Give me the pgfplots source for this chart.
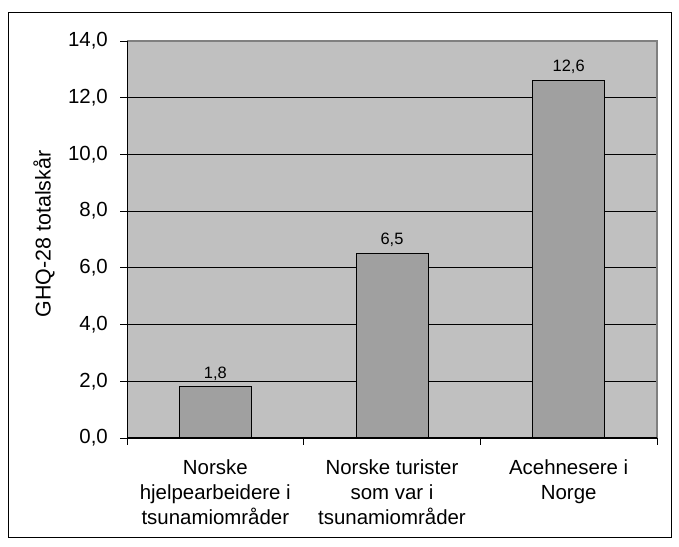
\documentclass[border=0pt]{standalone}
\usepackage{pgfplots}
\pgfplotsset{compat=1.18}
\usepackage{fontspec}
\setmainfont{Liberation Sans}
\definecolor{plotbg}{HTML}{C0C0C0}
\definecolor{barfill}{HTML}{A0A0A0}
\definecolor{frameg}{HTML}{808080}
\begin{document}
\begin{tikzpicture}[x=1bp,y=1bp]
\useasboundingbox (0,0) rectangle (679,547);
\draw[black, line width=1bp] (8.5,9) rectangle (671,534.5);
\node[rotate=90, font=\fontsize{21.5}{24}\selectfont] at (44,313) {GHQ-28 totalskår};
\begin{axis}[
  at={(127bp,109bp)}, anchor=south west,
  width=530bp, height=397bp, scale only axis,
  xmin=0, xmax=3, ymin=0, ymax=14,
  axis background/.style={fill=plotbg},
  axis line style={draw=none},
  ytick={0,2,...,14},
  xtick={0,1,2,3}, xticklabels={},
  extra x ticks={0.5,1.5,2.5},
  extra x tick labels={Norske\\hjelpearbeidere i\\tsunamiområder, Norske turister\\som var i\\tsunamiområder, Acehnesere i\\Norge},
  extra x tick style={major tick length=0pt, xticklabel style={inner sep=0pt, anchor=north, yshift=-22bp, align=center, font=\fontsize{20.5}{25}\selectfont}},
  tick align=outside, major tick length=7bp,
  tick style={black, line width=0.8bp},
  xtick pos=bottom, ytick pos=left,
  ymajorgrids, grid style={black, line width=0.8bp},
  yticklabel style={inner sep=0pt, xshift=-12bp, font=\fontsize{20.5}{24}\selectfont, /pgf/number format/.cd, fixed, fixed zerofill, precision=1, use comma, assume math mode=true},
  ybar, bar width=72bp,
  nodes near coords,
  nodes near coords style={font=\fontsize{16.5}{20}\selectfont, yshift=3bp, /pgf/number format/.cd, fixed, fixed zerofill, precision=1, use comma, assume math mode=true},
  clip=false,
]
\addplot[fill=barfill, draw=black, line width=1bp] coordinates {(0.5,1.8) (1.5,6.5) (2.5,12.6)};
\draw[frameg, line width=1.5bp] (rel axis cs:0,1) -- (rel axis cs:1,1) -- (rel axis cs:1,0);
\draw[black, line width=1bp] (rel axis cs:0,1) -- (rel axis cs:0,0) -- (rel axis cs:1,0);
\end{axis}
\end{tikzpicture}
\end{document}
